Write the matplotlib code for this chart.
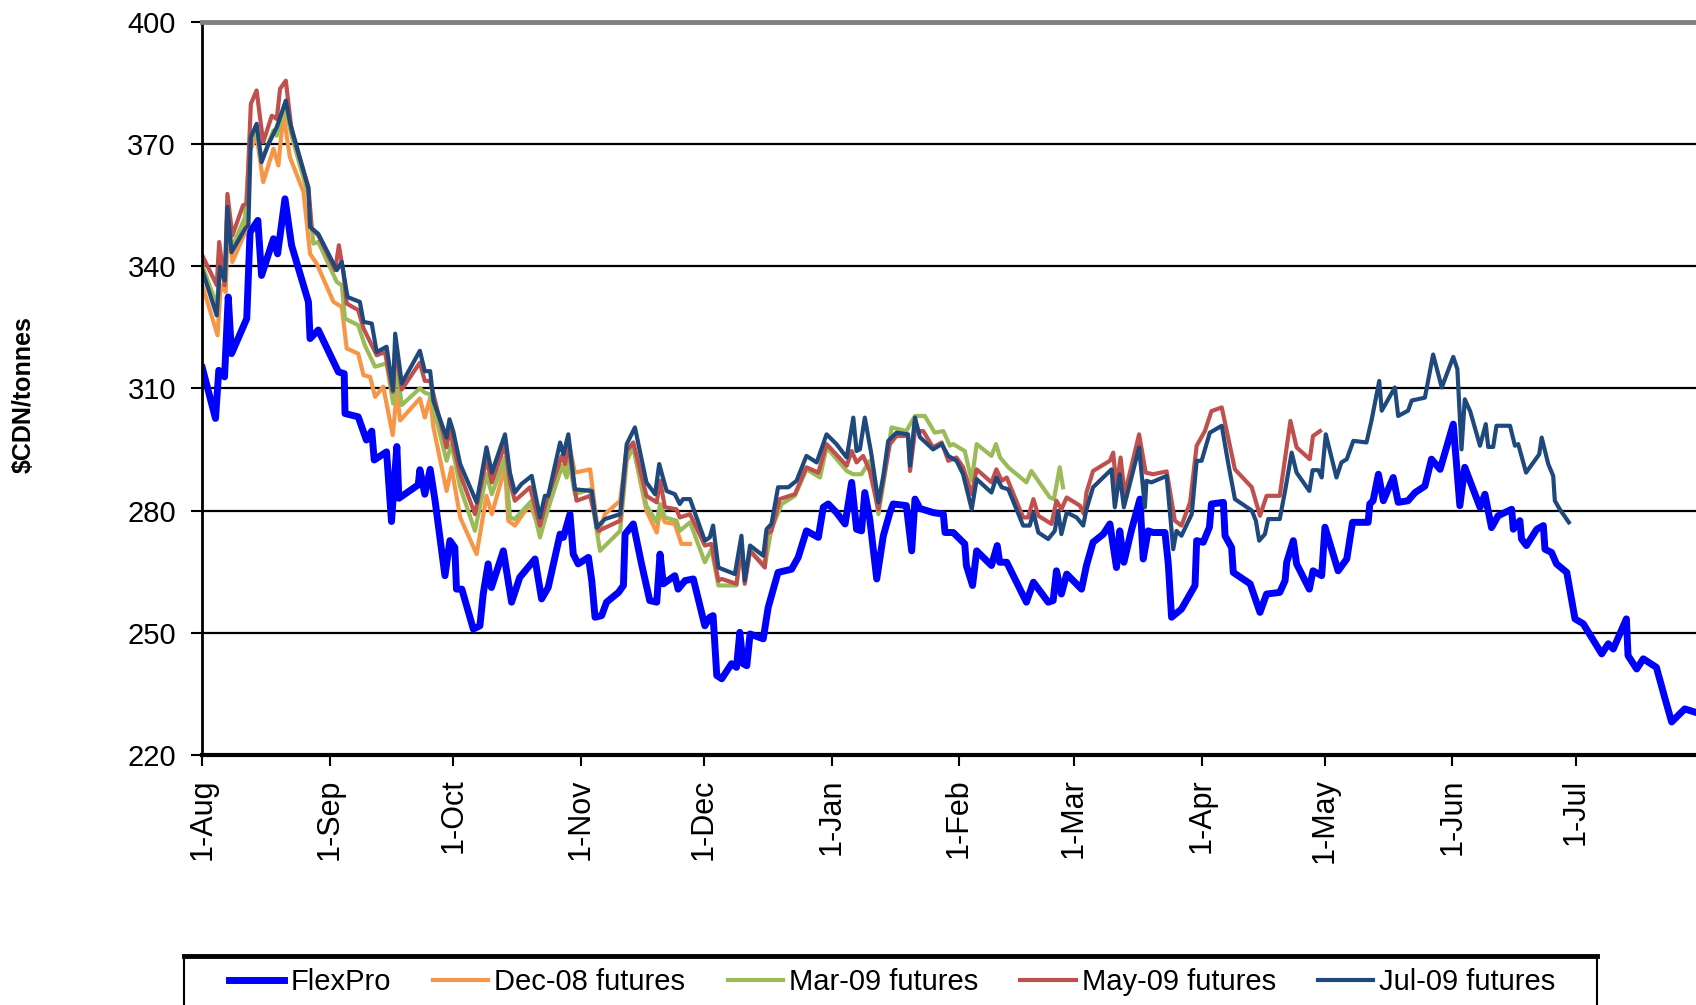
import pandas as pd
import matplotlib
matplotlib.use("Agg")
import matplotlib.pyplot as plt
from matplotlib.patches import Rectangle
from matplotlib.lines import Line2D

plt.rcParams["font.family"] = ["Liberation Sans", "DejaVu Sans"]

START = pd.Timestamp("2008-08-01")

# days after 1-Aug-2008, price in $CDN/tonne
flex_day = [0, 3.2, 4.0, 5.4, 6.3, 7.1, 10.8, 11.6, 13.5, 14.4, 17.3, 18.3, 20.1, 21.7, 25.8, 26.2, 28.2,
            33.1, 34.5, 34.7, 37.9, 39.9, 41.2, 41.8, 44.8, 46.0, 47.3, 47.8, 52.5, 52.9, 54.1, 55.4, 56.6,
            59.0, 60.2, 61.4, 61.8, 63.1, 65.9, 67.5, 68.3, 69.5, 70.3, 73.2, 75.2, 77.2, 80.9, 82.5, 84.1,
            87.0, 87.8, 89.4, 90.2, 91.4, 93.9, 94.7, 95.5, 97.1, 98.3, 101.2, 102.4, 102.8, 104.8, 106.8,
            108.8, 110.5, 111.3, 112.1, 114.9, 115.7, 117.4, 119.4, 122.2, 123.4, 124.2, 125.1, 126.3,
            128.7, 129.9, 130.7, 131.5, 132.4, 133.2, 136.4, 137.6, 140.0, 143.3, 144.9, 146.9, 149.8,
            151.0, 152.2, 154.2, 156.3, 157.9, 159.1, 160.3, 161.1, 162.3, 164.0, 165.6, 167.2, 168.0,
            171.2, 172.5, 173.3, 174.5, 177.7, 180.2, 180.6, 182.6, 185.4, 185.8, 187.3, 188.3, 191.9,
            193.3, 193.9, 195.6, 200.4, 202.1, 205.7, 206.9, 207.7, 208.9, 210.2, 213.8, 215.0, 216.6,
            219.1, 220.7, 222.3, 223.1, 224.1, 226.0, 228.0, 228.8, 230.0, 231.2, 234.1, 234.9, 235.7,
            238.1, 241.4, 241.8, 243.4, 244.9, 245.4, 248.3, 248.7, 250.3, 250.7, 254.8, 257.2, 258.8,
            262.0, 263.3, 263.7, 265.3, 266.1, 269.2, 270.1, 272.2, 273.0, 276.2, 278.3, 279.7, 283.5,
            283.9, 284.7, 286.0, 287.2, 289.6, 290.8, 293.2, 294.9, 297.3, 298.9, 301.0, 304.2, 305.8,
            307.0, 310.7, 311.9, 313.5, 315.1, 318.4, 318.8, 320.4, 320.8, 322.0, 324.5, 326.1, 326.5,
            328.1, 329.3, 331.8, 333.8, 335.8, 340.3, 341.9, 343.1, 346.3, 346.7, 348.8, 350.4, 353.6,
            355.7, 357.3, 360.5, 363.0]
flex_val = [315.0, 302.6, 314.4, 312.8, 332.4, 318.5, 327.1, 348.3, 351.2, 337.7, 346.7, 343.0, 356.5, 345.1,
            331.2, 322.2, 324.3, 314.0, 313.6, 303.8, 303.0, 297.3, 299.5, 292.4, 294.4, 277.3, 295.7, 283.0,
            286.3, 290.0, 284.0, 290.1, 282.4, 264.0, 272.6, 270.9, 260.7, 260.7, 250.9, 251.7, 259.5, 266.9,
            261.1, 270.1, 257.5, 263.6, 268.1, 258.3, 261.1, 274.2, 273.4, 279.1, 269.3, 266.9, 268.5, 262.8,
            253.8, 254.2, 257.5, 259.9, 261.6, 274.2, 276.7, 266.9, 257.9, 257.5, 269.3, 262.0, 264.0, 260.7,
            262.8, 263.2, 251.7, 253.8, 254.2, 239.5, 238.7, 242.4, 241.5, 250.1, 242.4, 241.9, 249.7, 248.5,
            256.2, 264.8, 265.6, 268.5, 275.0, 273.4, 280.8, 281.6, 279.5, 276.7, 286.9, 275.4, 275.0, 284.4,
            277.9, 263.2, 273.8, 279.5, 281.6, 281.2, 270.1, 282.8, 280.5, 279.5, 279.1, 274.6, 274.6, 271.8,
            266.5, 261.6, 270.1, 266.5, 271.4, 267.3, 267.3, 257.5, 262.4, 257.5, 257.9, 265.2, 259.5, 264.4,
            260.7, 266.5, 272.2, 274.2, 276.7, 266.0, 275.0, 267.3, 275.4, 282.8, 268.1, 275.0, 274.6, 274.6,
            266.9, 253.8, 255.8, 261.6, 272.6, 272.2, 275.9, 281.6, 282.0, 273.8, 270.9, 264.8, 262.0, 255.0,
            259.5, 259.9, 262.8, 267.3, 272.6, 266.9, 260.7, 265.2, 264.0, 275.9, 265.2, 268.1, 277.1, 277.1,
            281.6, 282.4, 288.9, 282.4, 288.1, 282.0, 282.4, 284.4, 286.0, 292.6, 290.1, 301.2, 281.2, 290.6,
            280.8, 284.0, 275.8, 278.7, 280.3, 275.4, 277.5, 273.0, 271.4, 275.4, 276.3, 270.5, 269.7, 266.9,
            264.8, 253.4, 252.2, 244.8, 247.3, 246.0, 253.4, 244.4, 241.1, 243.6, 241.5, 233.8, 228.1, 231.3,
            230.5]

dec_day = [0, 3.7, 4.5, 5.7, 6.2, 7.3, 10.4, 11.6, 13.2, 14.8, 17.3, 18.5, 19.7, 21.3, 24.6, 26.2, 27.8,
           31.9, 33.9, 35.1, 37.9, 39.2, 40.8, 42.0, 44.0, 46.3, 47.3, 48.1, 52.9, 54.1, 55.4, 56.2, 59.4,
           60.6, 62.7, 66.7, 69.1, 70.4, 73.6, 74.4, 76.0, 79.7, 82.1, 83.7, 87.4, 88.2, 89.0, 90.6, 94.3,
           96.3, 97.9, 101.6, 103.2, 104.8, 108.0, 110.5, 111.3, 112.5, 114.9, 116.5, 118.6]
dec_val = [335.3, 323.0, 335.3, 333.6, 351.6, 341.0, 348.3, 368.4, 372.0, 360.6, 368.8, 364.7, 377.4, 366.7,
           358.2, 343.0, 340.6, 331.2, 330.0, 319.8, 318.5, 313.2, 312.8, 307.9, 310.4, 298.5, 309.1, 302.1,
           307.5, 302.8, 307.7, 300.4, 284.8, 290.6, 278.3, 269.3, 283.6, 279.1, 290.6, 277.5, 276.3, 281.6,
           275.0, 279.9, 290.6, 289.7, 297.1, 289.3, 290.1, 274.2, 279.1, 282.4, 295.5, 295.5, 279.9, 274.6,
           279.9, 277.1, 276.7, 271.8, 271.8]

mar_day = [0, 3.5, 4.3, 5.5, 6.1, 7.1, 10.4, 11.6, 13.2, 14.4, 17.3, 18.1, 20.1, 21.7, 25.8, 27.0, 28.2,
           32.7, 33.9, 34.7, 37.9, 39.5, 42.0, 44.8, 46.4, 47.3, 48.5, 52.9, 54.1, 55.4, 59.4, 60.6, 62.7,
           66.3, 69.1, 70.4, 73.6, 74.8, 76.0, 80.1, 82.1, 83.7, 87.4, 88.6, 89.0, 90.6, 94.3, 96.7, 101.6,
           103.2, 104.8, 108.0, 110.5, 111.3, 112.5, 115.3, 116.1, 118.6, 122.2, 123.8, 125.5, 129.9, 131.1,
           131.9, 133.2, 136.8, 138.4, 140.9, 144.1, 146.9, 150.2, 151.8, 156.7, 158.3, 160.3, 162.3, 164.4,
           166.0, 167.6, 171.2, 173.3, 175.7, 178.1, 180.2, 181.8, 182.6, 185.4, 187.1, 188.3, 191.9, 193.0,
           194.0, 196.0, 200.4, 201.6, 206.1, 207.1, 208.5, 209.3]
mar_val = [340.2, 330.4, 340.2, 335.3, 354.9, 344.3, 352.0, 370.4, 373.7, 365.9, 373.3, 372.0, 379.4, 372.0,
           357.3, 345.5, 345.9, 336.1, 335.3, 327.1, 325.5, 320.6, 315.3, 316.1, 306.3, 315.0, 305.9, 310.0,
           308.9, 308.5, 292.2, 296.3, 285.7, 275.0, 288.9, 284.0, 293.0, 278.3, 277.9, 282.4, 273.4, 279.1,
           291.0, 288.1, 293.0, 284.0, 285.2, 270.1, 275.0, 292.2, 295.5, 281.2, 277.1, 281.6, 278.3, 277.5,
           275.0, 277.1, 267.3, 270.5, 261.6, 261.6, 271.4, 262.8, 270.1, 266.5, 275.4, 281.6, 283.6, 290.1,
           288.1, 295.5, 289.7, 288.9, 288.9, 292.2, 279.1, 288.9, 300.4, 299.5, 303.2, 303.2, 299.1, 299.5,
           295.9, 296.3, 294.6, 287.3, 296.3, 293.4, 296.3, 293.0, 290.6, 286.9, 289.7, 283.2, 282.8, 290.6,
           285.7]

may_day = [0, 3.5, 4.1, 5.4, 6.1, 7.3, 9.9, 10.8, 11.8, 13.2, 14.8, 16.9, 18.1, 18.9, 20.3, 21.7, 25.8,
           26.6, 28.2, 32.3, 33.2, 34.3, 35.1, 37.9, 39.2, 42.4, 44.4, 46.3, 46.9, 48.5, 52.9, 54.1, 55.4,
           59.4, 60.1, 62.7, 66.3, 69.1, 70.4, 73.6, 74.8, 76.0, 79.7, 82.1, 83.7, 87.4, 88.2, 89.0, 91.0,
           94.3, 96.3, 101.6, 103.2, 104.8, 108.0, 110.5, 111.3, 112.5, 115.3, 116.1, 118.6, 122.2, 123.8,
           125.5, 126.3, 129.9, 131.1, 131.9, 133.2, 136.8, 137.2, 138.4, 140.4, 144.1, 146.9, 149.8, 151.8,
           156.7, 157.9, 159.1, 160.7, 162.3, 164.4, 166.0, 167.2, 168.8, 171.6, 172.1, 173.3, 175.3, 177.7,
           179.8, 181.4, 183.4, 185.0, 187.1, 188.3, 191.9, 193.1, 194.4, 195.6, 199.6, 200.8, 202.1, 203.3,
           206.5, 207.7, 208.9, 210.2, 213.4, 214.4, 215.0, 216.6, 220.7, 221.5, 222.3, 223.3, 224.3, 227.8,
           229.4, 231.2, 234.5, 236.5, 238.1, 240.2, 241.8, 243.8, 245.4, 247.9, 251.1, 255.2, 257.2, 258.8,
           262.0, 264.6, 266.1, 269.3, 270.1, 271.8]
may_val = [342.6, 335.3, 345.9, 335.3, 357.7, 347.5, 354.9, 355.3, 379.8, 383.1, 370.4, 376.9, 376.1, 383.5,
           385.5, 373.3, 359.4, 349.2, 347.5, 339.0, 345.1, 338.5, 330.8, 329.2, 324.7, 318.1, 318.9, 309.1,
           320.0, 309.7, 316.3, 311.8, 311.8, 295.5, 300.0, 288.9, 279.1, 292.6, 286.9, 296.3, 286.9, 282.4,
           285.7, 276.3, 282.4, 293.4, 291.4, 296.3, 282.4, 283.6, 275.0, 277.5, 294.6, 296.7, 283.6, 282.0,
           287.3, 280.8, 280.3, 278.3, 279.1, 271.4, 271.8, 262.8, 263.2, 262.0, 271.8, 262.0, 270.1, 266.0,
           274.2, 275.0, 282.8, 284.0, 290.6, 289.3, 296.3, 291.0, 294.6, 291.8, 293.4, 289.7, 280.3, 289.7,
           296.3, 298.3, 298.3, 289.7, 299.5, 299.5, 295.5, 296.7, 292.2, 293.0, 290.6, 284.0, 290.1, 286.9,
           290.1, 287.3, 288.1, 278.3, 278.3, 282.8, 278.7, 276.7, 282.4, 280.3, 283.2, 281.2, 279.1, 284.4,
           289.7, 292.2, 294.2, 285.7, 293.0, 284.0, 298.7, 289.3, 288.9, 289.6, 277.5, 276.3, 282.0, 295.9,
           299.5, 304.4, 305.3, 290.1, 285.7, 278.7, 283.6, 283.6, 302.0, 295.5, 292.6, 298.3, 299.5]

jul_day = [0, 3.5, 4.3, 5.5, 6.1, 7.1, 10.4, 11.2, 11.8, 13.2, 14.4, 16.1, 18.1, 20.3, 21.3, 25.8, 26.2,
           28.2, 32.7, 33.9, 35.3, 38.3, 39.2, 41.2, 42.4, 44.8, 46.4, 46.9, 48.5, 52.9, 54.1, 55.4, 56.2,
           59.4, 60.1, 61.0, 62.7, 66.7, 69.1, 70.4, 73.6, 74.8, 76.0, 77.6, 80.1, 82.1, 83.3, 84.1, 87.0,
           87.8, 89.0, 90.6, 94.7, 95.9, 97.9, 101.6, 103.2, 105.2, 108.0, 110.1, 111.1, 112.9, 114.9, 116.1,
           116.9, 118.6, 122.2, 123.4, 124.2, 125.5, 129.5, 131.1, 131.9, 133.2, 136.4, 137.2, 138.4, 140.0,
           142.5, 144.5, 146.9, 149.4, 151.8, 154.2, 156.7, 158.3, 159.1, 159.9, 161.1, 162.7, 164.4, 165.6,
           166.8, 168.8, 171.6, 172.1, 173.3, 174.5, 177.7, 179.8, 181.4, 183.4, 185.0, 187.1, 188.3, 191.9,
           193.1, 194.4, 196.0, 199.6, 201.2, 202.1, 203.3, 205.7, 207.3, 208.1, 208.9, 210.2, 212.6, 214.2,
           215.0, 216.6, 221.1, 221.9, 223.1, 224.1, 227.8, 229.2, 229.6, 230.8, 234.5, 236.1, 236.9, 238.1,
           240.6, 241.8, 243.0, 245.0, 247.9, 249.5, 251.1, 255.2, 256.2, 257.0, 258.4, 259.2, 262.0, 263.3,
           264.9, 266.1, 269.2, 270.0, 271.4, 272.2, 273.2, 275.8, 277.0, 278.3, 279.9, 283.1, 284.3, 286.2,
           286.8, 290.0, 290.8, 293.2, 294.1, 297.3, 299.3, 301.4, 304.2, 305.2, 306.2, 307.0, 308.3, 310.7,
           312.1, 312.7, 313.9, 314.7, 318.0, 319.2, 320.0, 321.9, 325.1, 325.7, 327.3, 328.5, 328.9, 330.1,
           332.3]
jul_val = [339.0, 327.9, 339.8, 336.5, 354.5, 343.4, 349.2, 350.0, 371.6, 374.9, 365.5, 370.0, 374.1, 380.6,
           375.3, 359.0, 349.6, 347.9, 339.0, 341.0, 332.4, 331.2, 326.3, 325.9, 318.9, 320.2, 309.5, 323.4,
           311.2, 319.2, 314.2, 314.2, 306.9, 297.9, 302.4, 299.5, 291.4, 282.0, 295.5, 289.3, 298.7, 289.3,
           284.4, 286.5, 288.5, 278.3, 283.6, 283.6, 296.7, 293.8, 298.7, 285.2, 284.8, 275.8, 277.9, 279.1,
           296.3, 300.4, 286.9, 284.0, 291.4, 284.8, 284.0, 281.6, 282.8, 282.8, 272.6, 273.4, 276.3, 266.0,
           264.4, 273.8, 262.8, 271.4, 268.9, 275.4, 276.7, 285.7, 285.7, 287.3, 293.4, 291.8, 298.7, 296.3,
           293.0, 302.8, 294.6, 295.0, 302.8, 293.8, 282.0, 288.5, 297.1, 299.1, 298.7, 291.0, 302.8, 298.0,
           295.0, 296.3, 293.4, 292.2, 288.9, 280.3, 287.7, 284.4, 288.1, 285.7, 285.2, 276.3, 276.3, 279.5,
           274.6, 273.0, 275.0, 279.9, 274.2, 279.5, 278.3, 276.3, 280.3, 285.7, 290.1, 280.8, 288.9, 280.8,
           295.5, 280.8, 287.3, 286.9, 288.5, 270.5, 275.0, 273.8, 279.1, 292.2, 292.2, 299.1, 300.8, 291.4,
           282.8, 280.0, 277.5, 272.6, 274.2, 277.9, 277.9, 284.8, 294.2, 289.3, 284.8, 289.9, 289.9, 288.1,
           298.7, 288.1, 291.8, 292.6, 297.1, 296.7, 302.0, 311.8, 304.5, 310.2, 303.2, 304.5, 307.0, 307.7,
           318.3, 310.2, 317.7, 314.7, 295.0, 307.3, 304.4, 295.9, 301.2, 295.6, 295.6, 300.8, 300.8, 295.9,
           296.3, 289.3, 293.8, 297.9, 291.4, 288.5, 282.4, 280.3, 277.1]

series = [
    ("FlexPro", flex_day, flex_val, "#0000FF", 5.0),
    ("Dec-08 futures", dec_day, dec_val, "#F79646", 3.0),
    ("Mar-09 futures", mar_day, mar_val, "#9BBB59", 3.0),
    ("May-09 futures", may_day, may_val, "#C0504D", 3.0),
    ("Jul-09 futures", jul_day, jul_val, "#1F497D", 3.0),
]

fig = plt.figure(figsize=(16.96, 10.05), dpi=100)
ax = fig.add_axes([0.1193, 0.2488, 0.885, 0.7297])

for y in [250, 280, 310, 340, 370]:
    ax.axhline(y, color="black", lw=1.6, zorder=1)

for name, d, v, c, lw in series:
    dates = START + pd.to_timedelta(d, unit="D")
    ax.plot(dates, v, color=c, lw=lw, label=name, zorder=2, solid_joinstyle="round")

ax.set_ylim(220, 400)
ax.set_yticks([220, 250, 280, 310, 340, 370, 400])
ax.set_xlim(START, START + pd.Timedelta(days=365))

months = pd.date_range("2008-08-01", "2009-07-01", freq="MS")
ax.set_xticks(months)
ax.set_xticklabels([f"{m.day}-{m.strftime('%b')}" for m in months], rotation=90)

ax.tick_params(axis="y", direction="out", length=8, width=1.5, pad=11, labelsize=21)
ax.tick_params(axis="x", direction="out", length=8, width=1.5, pad=9, labelsize=22)

ax.spines["top"].set_color("#808080")
ax.spines["top"].set_linewidth(3.5)
ax.spines["left"].set_linewidth(2)
ax.spines["bottom"].set_linewidth(3)
ax.spines["right"].set_visible(False)

fig.text(24 / 1696, 1 - 395 / 1005, "$CDN/tonnes", rotation=90, ha="center", va="center",
         fontsize=18, fontweight="bold")

# legend box running off the bottom edge
box_top = 1 - 956 / 1005
fig.patches.append(Rectangle((184 / 1696, -0.05), (1597 - 184) / 1696, box_top + 0.05,
                             transform=fig.transFigure, fill=False, edgecolor="black", lw=1.5))
fig.add_artist(Line2D([184 / 1696, 1597 / 1696], [box_top, box_top], transform=fig.transFigure,
                      color="black", lw=3.5))

handles = [Line2D([], [], color=c, lw=lw) for _, _, _, c, lw in series]
labels = [s[0] for s in series]
fig.legend(handles, labels, loc="center left", bbox_to_anchor=(229 / 1696, 1 - 982 / 1005),
           ncol=5, frameon=False, fontsize=21, handlelength=1.9, handletextpad=0.2,
           columnspacing=1.45, borderpad=0, borderaxespad=0)

fig.savefig("out.png", dpi=100)
